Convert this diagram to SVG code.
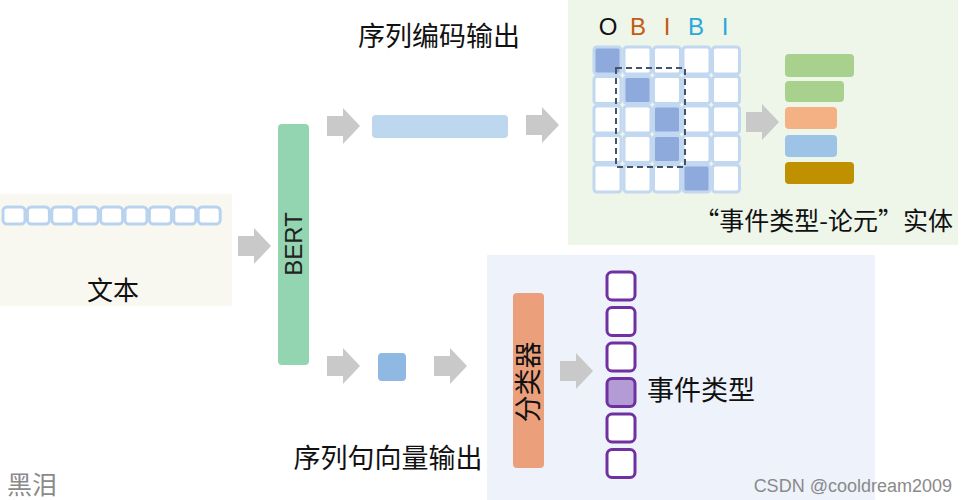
<svg xmlns="http://www.w3.org/2000/svg" xmlns:xlink="http://www.w3.org/1999/xlink" width="968" height="500" viewBox="0 0 968 500">
<defs>
<style>
.cjk{font-family:"Noto Sans CJK SC","Noto Sans",sans-serif;fill:#111}
.arrow{fill:#c9c9c9}
.tok{fill:#fff;stroke:#b9d3ee;stroke-width:3}
.cell{fill:#fff;stroke:#c2d8f0;stroke-width:3}
.on{fill:#8ea9dc;stroke:#c2d8f0;stroke-width:3}
.pc{fill:#fff;stroke:#7030a0;stroke-width:3}
.lat{font-family:"Liberation Sans","Noto Sans",sans-serif}
</style>
<path id="ar" d="M0,-10 H16 V-18 L33,0 L16,18 V10 H0 Z"/>
</defs>
<rect width="968" height="500" fill="#fff"/>

<g id="text-panel">
<rect x="0" y="194" width="232" height="112" fill="#f8f7f0"/>
<g>
<rect class="tok" x="3" y="207" width="22" height="17" rx="4"/>
<rect class="tok" x="27.4" y="207" width="22" height="17" rx="4"/>
<rect class="tok" x="51.8" y="207" width="22" height="17" rx="4"/>
<rect class="tok" x="76.2" y="207" width="22" height="17" rx="4"/>
<rect class="tok" x="100.6" y="207" width="22" height="17" rx="4"/>
<rect class="tok" x="125" y="207" width="22" height="17" rx="4"/>
<rect class="tok" x="149.4" y="207" width="22" height="17" rx="4"/>
<rect class="tok" x="173.8" y="207" width="22" height="17" rx="4"/>
<rect class="tok" x="198.2" y="207" width="22" height="17" rx="4"/>
</g>
<text class="cjk" x="113" y="300" font-size="26" text-anchor="middle">文本</text>
</g>

<g id="bert">
<rect x="278" y="124" width="31" height="241" rx="4" fill="#93d5b1"/>
<text class="lat" transform="translate(302,244) rotate(-90)" font-size="24" text-anchor="middle" fill="#222">BERT</text>
</g>

<g id="seq-output">
<text class="cjk" x="439" y="46" font-size="27" text-anchor="middle">序列编码输出</text>
<rect x="372" y="115" width="136" height="23" rx="4" fill="#bdd7ee"/>
</g>

<g id="entity-panel">
<rect x="568" y="0" width="390" height="245" fill="#eef5e9"/>
<g class="lat" font-size="24" text-anchor="middle">
<text x="608" y="35" fill="#111">O</text>
<text x="638" y="35" fill="#c55a11">B</text>
<text x="667" y="35" fill="#c55a11">I</text>
<text x="696" y="35" fill="#29a8dd">B</text>
<text x="725" y="35" fill="#29a8dd">I</text>
</g>
<g id="grid">
<rect class="on" x="594" y="47" width="27" height="27" rx="3"/>
<rect class="cell" x="624" y="47" width="27" height="27" rx="3"/>
<rect class="cell" x="653.5" y="47" width="27" height="27" rx="3"/>
<rect class="cell" x="683" y="47" width="27" height="27" rx="3"/>
<rect class="cell" x="712.5" y="47" width="27" height="27" rx="3"/>

<rect class="cell" x="594" y="76.5" width="27" height="27" rx="3"/>
<rect class="on" x="624" y="76.5" width="27" height="27" rx="3"/>
<rect class="cell" x="653.5" y="76.5" width="27" height="27" rx="3"/>
<rect class="cell" x="683" y="76.5" width="27" height="27" rx="3"/>
<rect class="cell" x="712.5" y="76.5" width="27" height="27" rx="3"/>

<rect class="cell" x="594" y="106" width="27" height="27" rx="3"/>
<rect class="cell" x="624" y="106" width="27" height="27" rx="3"/>
<rect class="on" x="653.5" y="106" width="27" height="27" rx="3"/>
<rect class="cell" x="683" y="106" width="27" height="27" rx="3"/>
<rect class="cell" x="712.5" y="106" width="27" height="27" rx="3"/>

<rect class="cell" x="594" y="135.5" width="27" height="27" rx="3"/>
<rect class="cell" x="624" y="135.5" width="27" height="27" rx="3"/>
<rect class="on" x="653.5" y="135.5" width="27" height="27" rx="3"/>
<rect class="cell" x="683" y="135.5" width="27" height="27" rx="3"/>
<rect class="cell" x="712.5" y="135.5" width="27" height="27" rx="3"/>

<rect class="cell" x="594" y="165" width="27" height="27" rx="3"/>
<rect class="cell" x="624" y="165" width="27" height="27" rx="3"/>
<rect class="cell" x="653.5" y="165" width="27" height="27" rx="3"/>
<rect class="on" x="683" y="165" width="27" height="27" rx="3"/>
<rect class="cell" x="712.5" y="165" width="27" height="27" rx="3"/>
</g>
<rect x="616" y="68" width="69" height="99" fill="none" stroke="#44546a" stroke-width="2" stroke-dasharray="6,4"/>
<g id="entity-bars">
<rect x="785" y="54" width="69" height="23" rx="4" fill="#a9d18e"/>
<rect x="785" y="81" width="59" height="21" rx="4" fill="#a9d18e"/>
<rect x="785" y="107" width="52" height="22" rx="4" fill="#f4b183"/>
<rect x="785" y="135" width="52" height="22" rx="4" fill="#9dc3e6"/>
<rect x="785" y="162" width="69" height="22" rx="4" fill="#bf9000"/>
</g>
<text class="cjk" x="953" y="230" font-size="25" text-anchor="end">“事件类型-论元”实体</text>
</g>

<g id="type-panel">
<rect x="487" y="255" width="388" height="245" fill="#eef2fb"/>
<rect x="513" y="293" width="31" height="175" rx="4" fill="#eba07b"/>
<text class="cjk" transform="translate(538,382) rotate(-90)" font-size="27" text-anchor="middle">分类器</text>
<g id="type-cells">
<rect class="pc" x="607" y="272" width="28" height="28" rx="5"/>
<rect class="pc" x="607" y="307.5" width="28" height="28" rx="5"/>
<rect class="pc" x="607" y="343" width="28" height="28" rx="5"/>
<rect class="pc" x="607" y="378.5" width="28" height="28" rx="5" style="fill:#b39bd6"/>
<rect class="pc" x="607" y="414" width="28" height="28" rx="5"/>
<rect class="pc" x="607" y="449.5" width="28" height="28" rx="5"/>
</g>
<text class="cjk" x="701" y="400" font-size="27" text-anchor="middle">事件类型</text>
</g>

<g id="sent-output">
<rect x="378" y="353" width="28" height="28" rx="4" fill="#8fb8e3"/>
<text class="cjk" x="388" y="468" font-size="27" text-anchor="middle">序列句向量输出</text>
</g>

<g id="connectors">
<use href="#ar" class="arrow" x="238" y="246"/>
<use href="#ar" class="arrow" x="327" y="126"/>
<use href="#ar" class="arrow" x="526" y="125"/>
<use href="#ar" class="arrow" x="746" y="122"/>
<use href="#ar" class="arrow" x="327" y="366"/>
<use href="#ar" class="arrow" x="434" y="366"/>
<use href="#ar" class="arrow" x="560" y="371"/>
</g>

<text x="7" y="494" font-size="25" fill="#8a8a8a" style="font-family:'Noto Sans CJK SC',sans-serif">黑泪</text>
<text x="952" y="492" font-size="18" fill="#8a8a8a" text-anchor="end" style="font-family:'Liberation Sans',sans-serif">CSDN @cooldream2009</text>
</svg>
